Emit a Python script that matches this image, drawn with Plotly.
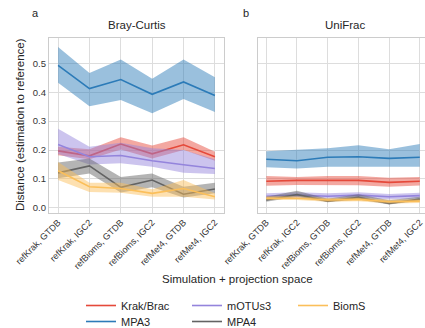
import plotly.graph_objects as go

categories = ["refKrak, GTDB", "refKrak, IGC2", "refBioms, GTDB", "refBioms, IGC2", "refMet4, GTDB", "refMet4, IGC2"]
series_names = ["Krak/Brac", "MPA3", "mOTUs3", "MPA4", "BiomS"]
colors = {"Krak/Brac": "#e5493a", "MPA3": "#2c7bb8", "mOTUs3": "#9484dc", "MPA4": "#636363", "BiomS": "#fbbf5a"}

# Bray-Curtis panel
bc_mean = {
    "Krak/Brac": [0.197, 0.180, 0.221, 0.187, 0.218, 0.177],
    "MPA3": [0.493, 0.413, 0.444, 0.393, 0.436, 0.389],
    "mOTUs3": [0.219, 0.177, 0.181, 0.163, 0.149, 0.136],
    "MPA4": [0.121, 0.145, 0.071, 0.096, 0.047, 0.065],
    "BiomS": [0.128, 0.073, 0.067, 0.050, 0.067, 0.038],
}
bc_low = {
    "Krak/Brac": [0.182, 0.168, 0.202, 0.171, 0.200, 0.163],
    "MPA3": [0.433, 0.352, 0.373, 0.327, 0.377, 0.332],
    "mOTUs3": [0.186, 0.150, 0.154, 0.142, 0.121, 0.117],
    "MPA4": [0.102, 0.119, 0.053, 0.071, 0.036, 0.050],
    "BiomS": [0.096, 0.055, 0.052, 0.038, 0.038, 0.029],
}
bc_high = {
    "Krak/Brac": [0.211, 0.203, 0.244, 0.216, 0.244, 0.194],
    "MPA3": [0.557, 0.467, 0.514, 0.447, 0.514, 0.452],
    "mOTUs3": [0.274, 0.211, 0.225, 0.206, 0.200, 0.168],
    "MPA4": [0.157, 0.171, 0.107, 0.119, 0.073, 0.087],
    "BiomS": [0.159, 0.087, 0.087, 0.064, 0.096, 0.050],
}

# UniFrac panel
uf_mean = {
    "Krak/Brac": [0.092, 0.095, 0.095, 0.095, 0.088, 0.092],
    "MPA3": [0.168, 0.163, 0.175, 0.177, 0.171, 0.175],
    "mOTUs3": [0.040, 0.044, 0.040, 0.044, 0.038, 0.042],
    "MPA4": [0.027, 0.046, 0.023, 0.036, 0.015, 0.030],
    "BiomS": [0.033, 0.033, 0.027, 0.029, 0.021, 0.023],
}
uf_low = {
    "Krak/Brac": [0.076, 0.079, 0.078, 0.078, 0.073, 0.077],
    "MPA3": [0.140, 0.136, 0.142, 0.142, 0.142, 0.142],
    "mOTUs3": [0.031, 0.035, 0.031, 0.035, 0.029, 0.033],
    "MPA4": [0.021, 0.038, 0.019, 0.029, 0.011, 0.024],
    "BiomS": [0.027, 0.027, 0.021, 0.023, 0.015, 0.017],
}
uf_high = {
    "Krak/Brac": [0.110, 0.107, 0.110, 0.110, 0.104, 0.107],
    "MPA3": [0.196, 0.202, 0.206, 0.217, 0.203, 0.221],
    "mOTUs3": [0.050, 0.054, 0.050, 0.054, 0.048, 0.052],
    "MPA4": [0.038, 0.059, 0.031, 0.047, 0.026, 0.038],
    "BiomS": [0.040, 0.040, 0.034, 0.036, 0.028, 0.030],
}

legend_of = {"Krak/Brac": "legend", "mOTUs3": "legend", "BiomS": "legend", "MPA3": "legend2", "MPA4": "legend2"}
legend_rank = {"Krak/Brac": 1, "mOTUs3": 2, "BiomS": 3, "MPA3": 1, "MPA4": 2}


def rgba(hexc, a):
    h = hexc.lstrip("#")
    r, g, b = int(h[0:2], 16), int(h[2:4], 16), int(h[4:6], 16)
    return f"rgba({r},{g},{b},{a})"


FONT = "Liberation Sans, Arial, sans-serif"
fig = go.Figure()
xi = list(range(len(categories)))

for panel, (m, lo, hi, xa, ya) in enumerate([(bc_mean, bc_low, bc_high, "x", "y"), (uf_mean, uf_low, uf_high, "x2", "y2")]):
    for name in series_names:
        c = colors[name]
        fig.add_trace(go.Scatter(
            x=xi + xi[::-1], y=hi[name] + lo[name][::-1], fill="toself",
            fillcolor=rgba(c, 0.48), line=dict(width=0), mode="lines",
            showlegend=False, hoverinfo="skip", xaxis=xa, yaxis=ya))
        fig.add_trace(go.Scatter(
            x=xi, y=m[name], mode="lines", line=dict(color=c, width=1.6),
            name=name, showlegend=(panel == 0), legend=legend_of[name],
            legendrank=legend_rank[name], xaxis=xa, yaxis=ya))

axis_common = dict(
    showline=True, mirror=True, linecolor="#cccccc", linewidth=1.3,
    showgrid=True, gridcolor="#dddddd", gridwidth=1, zeroline=False, ticks="",
    automargin=False,
)
xtick_font = dict(family=FONT, size=9, color="#333333")
ytick_font = dict(family=FONT, size=9.5, color="#333333")

y0 = 1 - 212.7 / 328
y1 = 1 - 38.3 / 328
fig.update_layout(
    width=425, height=328,
    margin=dict(l=0, r=0, t=0, b=0, autoexpand=False),
    paper_bgcolor="white", plot_bgcolor="white",
    font=dict(family=FONT, size=11, color="#262626"),
    xaxis=dict(domain=[49 / 425, 224 / 425], range=[-0.29, 5.29], tickvals=xi, ticktext=categories,
               tickangle=-45, anchor="y", tickfont=xtick_font, ticklabeloverflow="allow", **axis_common),
    yaxis=dict(domain=[y0, y1], range=[-0.017, 0.587], tickvals=[0, 0.1, 0.2, 0.3, 0.4, 0.5],
               tickformat=".1f", anchor="x", tickfont=ytick_font, **axis_common),
    xaxis2=dict(domain=[258 / 425, 1.0], range=[-0.27, 5.17], tickvals=xi, ticktext=categories,
                tickangle=-45, anchor="y2", tickfont=xtick_font, ticklabeloverflow="allow", **axis_common),
    yaxis2=dict(domain=[y0, y1], range=[-0.017, 0.587], tickvals=[0, 0.1, 0.2, 0.3, 0.4, 0.5],
                showticklabels=False, anchor="x2", matches="y", **axis_common),
    legend=dict(orientation="h", x=81 / 425, y=1 - 291 / 328, xanchor="left", yanchor="top",
                entrywidth=61, entrywidthmode="pixels", font=dict(family=FONT, size=11, color="#262626"),
                bgcolor="rgba(0,0,0,0)", itemwidth=30, traceorder="normal"),
    legend2=dict(orientation="h", x=81 / 425, y=1 - 307 / 328, xanchor="left", yanchor="top",
                 entrywidth=61, entrywidthmode="pixels", font=dict(family=FONT, size=11, color="#262626"),
                 bgcolor="rgba(0,0,0,0)", itemwidth=30, traceorder="normal"),
    annotations=[
        dict(text="Bray-Curtis", x=136.5 / 425, y=1 - 25 / 328, xref="paper", yref="paper",
             showarrow=False, font=dict(size=11.5, color="#262626"), xanchor="center", yanchor="middle"),
        dict(text="UniFrac", x=345 / 425, y=1 - 25 / 328, xref="paper", yref="paper",
             showarrow=False, font=dict(size=11.5, color="#262626"), xanchor="center", yanchor="middle"),
        dict(text="a", x=35 / 425, y=1 - 13 / 328, xref="paper", yref="paper",
             showarrow=False, font=dict(size=11, color="#262626"), xanchor="center", yanchor="middle"),
        dict(text="b", x=246 / 425, y=1 - 13 / 328, xref="paper", yref="paper",
             showarrow=False, font=dict(size=11, color="#262626"), xanchor="center", yanchor="middle"),
        dict(text="Distance (estimation to reference)", x=20 / 425, y=1 - 125 / 328, xref="paper", yref="paper",
             showarrow=False, textangle=-90, font=dict(size=11.5, color="#262626"), xanchor="center", yanchor="middle"),
        dict(text="Simulation + projection space", x=237 / 425, y=1 - 279 / 328, xref="paper", yref="paper",
             showarrow=False, font=dict(size=11.5, color="#262626"), xanchor="center", yanchor="middle"),
    ],
)

fig.write_html("out.html")
